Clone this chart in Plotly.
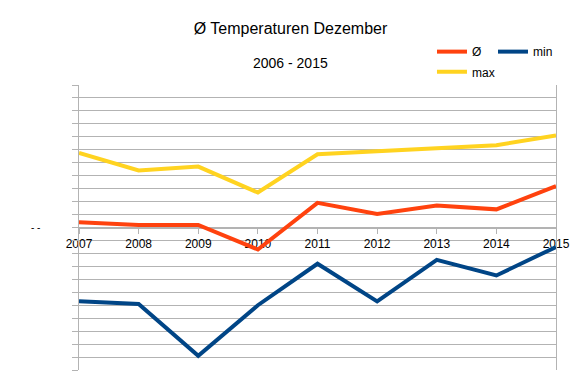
import plotly.graph_objects as go

years = [2007, 2008, 2009, 2010, 2011, 2012, 2013, 2014, 2015]
avg_temp = [0.4, 0.2, 0.2, -1.7, 1.9, 1.05, 1.7, 1.4, 3.2]
min_temp = [-5.7, -5.9, -9.9, -6.0, -2.8, -5.7, -2.5, -3.7, -1.5]
max_temp = [5.75, 4.4, 4.7, 2.7, 5.65, 5.9, 6.1, 6.35, 7.1]

title_text = "Ø Temperaturen Dezember"
subtitle_text = "2006 - 2015"

FONT = "Liberation Sans, Arial, sans-serif"
GRID = "#b3b3b3"

# page body adds an 8px offset; figure size/margins compensate for it
W, H = 573, 383

fig = go.Figure()
fig.add_trace(go.Scatter(x=years, y=avg_temp, mode="lines", name="Ø",
                         line=dict(color="#ff420e", width=4), legend="legend"))
fig.add_trace(go.Scatter(x=years, y=min_temp, mode="lines", name="min",
                         line=dict(color="#004586", width=4), legend="legend"))
fig.add_trace(go.Scatter(x=years, y=max_temp, mode="lines", name="max",
                         line=dict(color="#ffd320", width=4), legend="legend2"))

fig.update_layout(
    width=W, height=H,
    margin=dict(l=71, r=25, t=77, b=21, autoexpand=False),
    paper_bgcolor="white", plot_bgcolor="white",
    font=dict(family=FONT, size=12, color="#000000"),
    title=dict(text=title_text, x=282.5 / W, xanchor="center", y=1 - 20 / H, yanchor="middle",
               font=dict(size=16, color="#000000")),
    showlegend=True,
    legend=dict(orientation="h", x=0.74, xanchor="left", y=1.168, yanchor="top",
                entrywidth=16, entrywidthmode="pixels", itemwidth=30,
                font=dict(size=12), bgcolor="rgba(0,0,0,0)", tracegroupgap=0),
    legend2=dict(orientation="h", x=0.74, xanchor="left", y=1.097, yanchor="top",
                 itemwidth=30, font=dict(size=12), bgcolor="rgba(0,0,0,0)"),
    annotations=[
        dict(text=subtitle_text, xref="paper", yref="paper", x=(290.5 - 79) / 477, y=(370 - 63) / 285,
             xanchor="center", yanchor="middle", showarrow=False, font=dict(size=14)),
        dict(text="- -", xref="paper", yref="y", x=(35 - 79) / 477, y=0,
             xanchor="center", yanchor="middle", showarrow=False, font=dict(size=10)),
    ],
)

fig.update_xaxes(
    range=[2007, 2015], tickvals=years, ticktext=[str(y) for y in years],
    showgrid=False, zeroline=False, showline=True, linecolor=GRID, linewidth=1,
    anchor="free", position=0.5, ticks="outside", ticklen=5, tickcolor=GRID,
    tickfont=dict(size=12, color="#000000"), layer="below traces",
)
fig.update_yaxes(
    range=[-11, 11], dtick=1, showgrid=True, gridcolor=GRID, gridwidth=1,
    zeroline=True, zerolinecolor=GRID, zerolinewidth=1,
    showline=True, linecolor=GRID, linewidth=1, mirror=True,
    ticks="outside", ticklen=6, tickcolor=GRID, showticklabels=False,
)

fig.write_html("out.html")
